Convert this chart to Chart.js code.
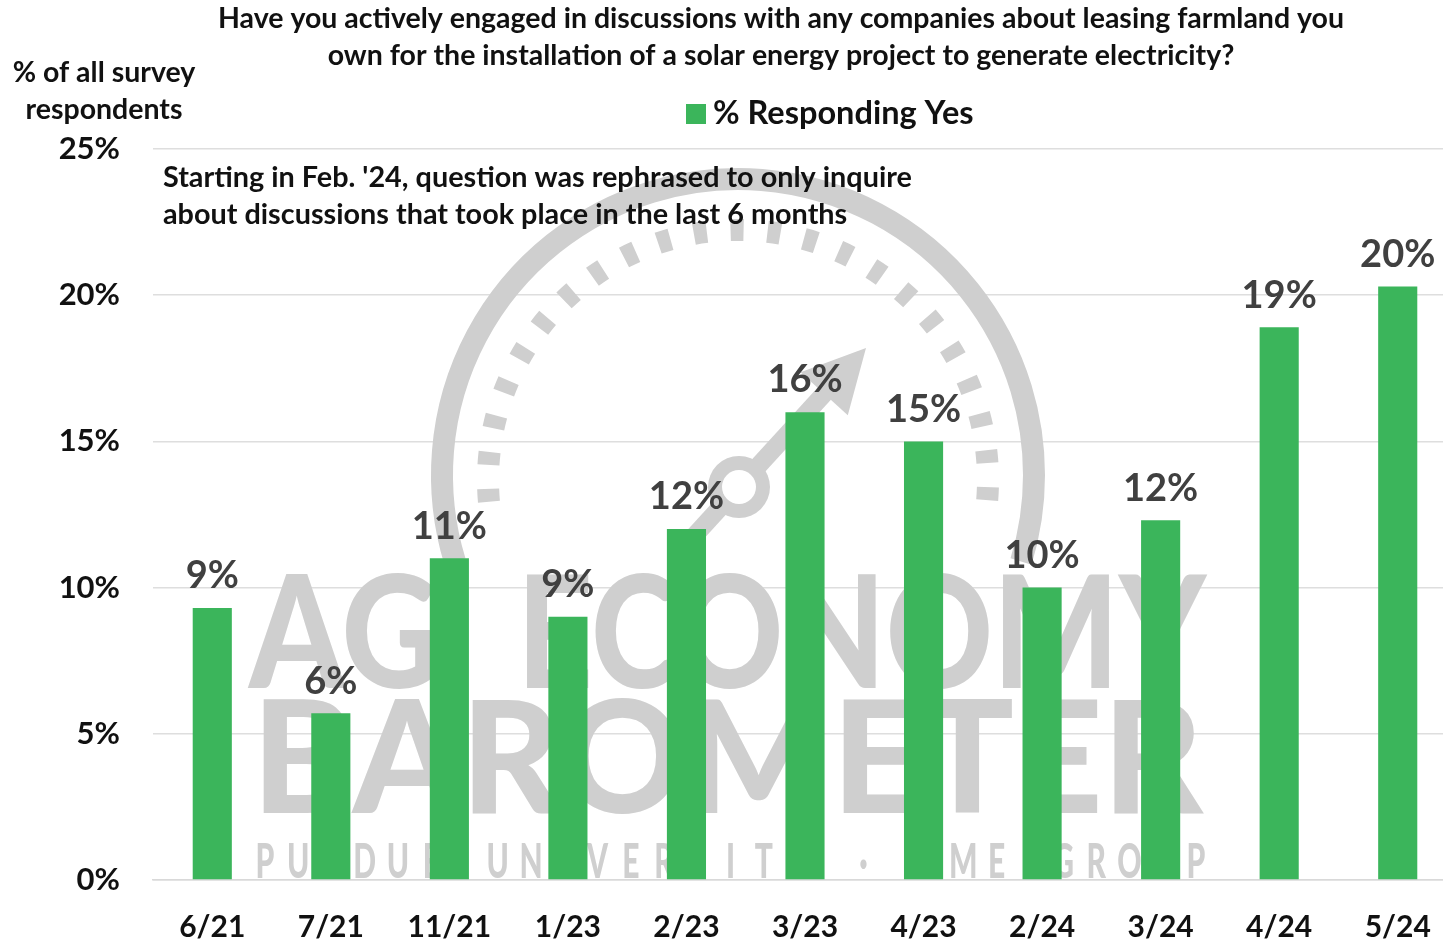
<!DOCTYPE html>
<html><head><meta charset="utf-8">
<script src="https://cdn.jsdelivr.net/npm/chart.js@4.4.1/dist/chart.umd.min.js"></script>
<style>
html,body{margin:0;padding:0;background:#fff;overflow:hidden;}
#wrap{width:1460px;height:942px;}
</style></head>
<body><div id="wrap"><canvas id="c" width="1460" height="942"></canvas></div>
<script>
const categories = ['6/21','7/21','11/21','1/23','2/23','3/23','4/23','2/24','3/24','4/24','5/24'];
const yesValues = [9.3, 5.7, 11.0, 9.0, 12.0, 16.0, 15.0, 10.0, 12.3, 18.9, 20.3];
const valueLabels = ['9%','6%','11%','9%','12%','16%','15%','10%','12%','19%','20%'];
const titleLines = ['Have you actively engaged in discussions with any companies about leasing farmland you','own for the installation of a solar energy project to generate electricity?'];
const yTitleLines = ['% of all survey','respondents'];
const noteLines = ["Starting in Feb. '24, question was rephrased to only inquire","about discussions that took place in the last 6 months"];
const seriesName = '% Responding Yes';
const watermarkWords = ['AG','ECONOMY','BAROMETER'];
const watermarkSub = 'PURDUE UNIVERSITY · CME GROUP';

const FONT = 'Lato, "Open Sans", sans-serif';
const GREEN = '#3BB55B';
const WM = '#cfcfcf';

const textPlugin = {
  id: 'texts',
  beforeDatasetsDraw(chart) {
    const ctx = chart.ctx;
    ctx.save();
    ctx.fillStyle = WM;
    ctx.strokeStyle = WM;
    // gauge ring
    const cx = 738, cy = 475;
    ctx.lineWidth = 22;
    ctx.beginPath();
    ctx.arc(cx, cy, 296, Math.PI * 163 / 180, Math.PI * 377 / 180);
    ctx.stroke();
    // dashed inner ring
    ctx.lineWidth = 22;
    ctx.setLineDash([13, 24]);
    ctx.beginPath();
    ctx.arc(cx, cy + 5, 250, Math.PI * 175 / 180, Math.PI * 365 / 180);
    ctx.stroke();
    ctx.setLineDash([]);
    // needle
    const hx = 739, hy = 487, tx = 866, ty = 348;
    const ang = Math.atan2(ty - hy, tx - hx);
    const ux = Math.cos(ang), uy = Math.sin(ang);
    ctx.lineWidth = 18;
    ctx.beginPath();
    ctx.moveTo(hx - ux * 90, hy - uy * 90);
    ctx.lineTo(tx - ux * 50, ty - uy * 50);
    ctx.stroke();
    const bx = tx - ux * 62, by = ty - uy * 62;
    ctx.beginPath();
    ctx.moveTo(tx, ty);
    ctx.lineTo(bx - uy * 32, by + ux * 32);
    ctx.lineTo(bx + uy * 32, by - ux * 32);
    ctx.closePath();
    ctx.fill();
    ctx.beginPath();
    ctx.arc(hx, hy, 31, 0, Math.PI * 2);
    ctx.fill();
    ctx.fillStyle = '#fff';
    ctx.beginPath();
    ctx.arc(hx, hy, 17, 0, Math.PI * 2);
    ctx.fill();
    ctx.fillStyle = WM;
    // words
    ctx.textBaseline = 'alphabetic';
    ctx.textAlign = 'left';
    const fit = (txt, x0, x1, base, capH) => {
      ctx.font = '900 100px ' + FONT;
      const m = ctx.measureText(txt);
      const asc = ctx.measureText('H').actualBoundingBoxAscent;
      const sy = capH / asc;
      const sx = (x1 - x0) / m.width;
      ctx.save();
      ctx.translate(x0, base);
      ctx.scale(sx, sy);
      ctx.fillText(txt, 0, 0);
      ctx.restore();
    };
    fit(watermarkWords[0], 249, 440, 688, 114);
    fit(watermarkWords[1], 517, 1206, 688, 114);
    fit(watermarkWords[2], 252, 1203, 813, 114);
    // sub line with even letter positions
    ctx.font = '900 40px ' + FONT;
    ctx.textAlign = 'center';
    const chars = watermarkSub.split('');
    const step = (1196 - 265) / (chars.length - 1);
    chars.forEach((ch, i) => {
      ctx.save();
      ctx.translate(265 + i * step, 878);
      ctx.scale(0.75, 1.2);
      ctx.fillText(ch, 0, 0);
      ctx.restore();
    });
    ctx.restore();
  },
  afterDatasetsDraw(chart) {
    const ctx = chart.ctx;
    const meta = chart.getDatasetMeta(0);
    ctx.save();
    ctx.font = 'bold 38px ' + FONT;
    ctx.fillStyle = '#404040';
    ctx.textAlign = 'center';
    ctx.textBaseline = 'bottom';
    meta.data.forEach((bar, i) => {
      ctx.fillText(valueLabels[i], bar.x, bar.y - 13);
    });
    ctx.restore();
  },
  afterDraw(chart) {
    const ctx = chart.ctx;
    ctx.save();
    ctx.fillStyle = '#111';
    ctx.textBaseline = 'middle';
    ctx.textAlign = 'center';
    ctx.font = 'bold 28.5px ' + FONT;
    ctx.fillText(titleLines[0], 781, 19);
    ctx.fillText(titleLines[1], 781, 56);
    ctx.fillText(yTitleLines[0], 104, 73);
    ctx.fillText(yTitleLines[1], 104, 110);
    ctx.textAlign = 'left';
    ctx.font = 'bold 28.8px ' + FONT;
    ctx.fillText(noteLines[0], 163, 178);
    ctx.fillText(noteLines[1], 163, 215);
    // legend
    ctx.fillStyle = chart.data.datasets[0].backgroundColor;
    ctx.fillRect(686, 104, 20, 20);
    ctx.fillStyle = '#111';
    ctx.font = 'bold 32.5px ' + FONT;
    ctx.fillText(chart.data.datasets[0].label, 713, 114);
    ctx.restore();
  }
};

new Chart(document.getElementById('c'), {
  type: 'bar',
  data: {
    labels: categories,
    datasets: [{
      label: seriesName,
      data: yesValues,
      backgroundColor: GREEN,
      borderWidth: 0,
      categoryPercentage: 1.0,
      barPercentage: 0.33
    }]
  },
  options: {
    responsive: false,
    animation: false,
    devicePixelRatio: 1,
    layout: { padding: { top: 149, left: 0, right: 3, bottom: 0 } },
    plugins: { legend: { display: false }, title: { display: false }, tooltip: { enabled: false } },
    scales: {
      x: {
        afterFit(scale) { scale.height = 62; },
        grid: { display: false, drawTicks: false },
        border: { display: true, color: '#d9d9d9', width: 1.5 },
        ticks: { color: '#111', font: { family: FONT, size: 30, weight: 'bold' }, padding: 29 }
      },
      y: {
        min: 0, max: 25,
        afterFit(scale) { scale.width = 153; },
        grid: { color: '#dedede', lineWidth: 1.5, drawTicks: false },
        border: { display: false },
        ticks: {
          stepSize: 5,
          color: '#111',
          padding: 33,
          font: { family: FONT, size: 31, weight: 'bold' },
          callback: v => v + '%'
        }
      }
    }
  },
  plugins: [textPlugin]
});
</script>
</body></html>
